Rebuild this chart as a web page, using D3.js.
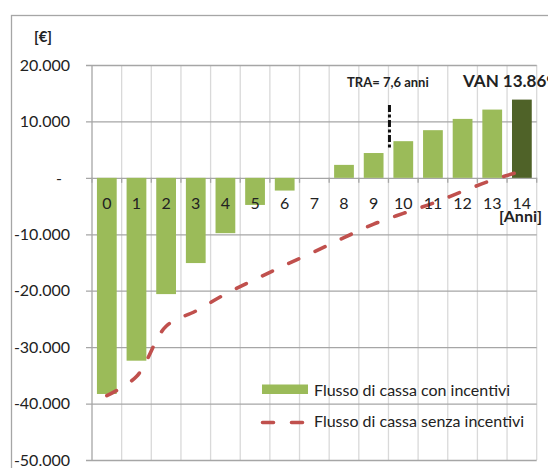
<!DOCTYPE html>
<html>
<head>
<meta charset="utf-8">
<script src="https://cdn.jsdelivr.net/npm/d3@7"></script>
<style>
  html, body { margin: 0; padding: 0; background: #ffffff; overflow: hidden; }
  svg { display: block; font-family: Lato, "Open Sans", sans-serif; }
</style>
</head>
<body>
<svg id="chart" width="548" height="468"></svg>
<script>
// Years of the investment horizon
const years = ["0","1","2","3","4","5","6","7","8","9","10","11","12","13","14"];

// Cumulative discounted cash flow with incentives [€]
const flowWithIncentives = [-38300, -32400, -20600, -15100, -9800, -4800, -2250, 0, 2300, 4400, 6500, 8450, 10450, 12100, 13869];

// Cumulative discounted cash flow without incentives [€]
const flowWithoutIncentives = [-38600, -35200, -26300, -23600, -20600, -18000, -15500, -13100, -10600, -8200, -6300, -4500, -2400, -400, 1200];

// Value axis ticks and their labels
const yTicks = [-50000, -40000, -30000, -20000, -10000, 0, 10000, 20000];
const yTickLabels = ["-50.000", "-40.000", "-30.000", "-20.000", "-10.000", "-", "10.000", "20.000"];

// Annotations
const seriesNames = ["Flusso di cassa con incentivi", "Flusso di cassa senza incentivi"];
const paybackLabel = "TRA= 7,6 anni";
const paybackMarkerYear = "10";
const npvLabel = "VAN 13.869";

const GREEN = "#9bbb59", DARK_GREEN = "#4f6228", RED = "#c0504d";
const GRID_MAJOR = "#a6a6a6", GRID_MINOR = "#d9d9d9";

const svg = d3.select("#chart");

const plot = { left: 92, right: 536.7, top: 65, bottom: 460 };

const x = d3.scaleBand().domain(years).range([plot.left, plot.right]).padding(0);
const step = x.step();
const barW = step / 1.5;                      // 50% gap width
const y = d3.scaleLinear().domain([-50000, 20000]).range([plot.bottom, plot.top]);

// Outer chart frame
svg.append("rect")
  .attr("x", 11.5).attr("y", 15.5).attr("width", 620).attr("height", 520)
  .attr("fill", "#ffffff").attr("stroke", GRID_MAJOR).attr("stroke-width", 1.3);

// Vertical gridlines at category boundaries
const boundaries = years.map(d => x(d)).concat([plot.right]);
svg.append("g").selectAll("line").data(boundaries.slice(1)).join("line")
  .attr("x1", d => d).attr("x2", d => d)
  .attr("y1", plot.top).attr("y2", plot.bottom)
  .attr("stroke", GRID_MINOR).attr("stroke-width", 1.3);

// Horizontal gridlines with outside ticks
const yAxis = d3.axisLeft(y).tickValues(yTicks).tickSize(-(plot.right - plot.left)).tickPadding(0).tickFormat("");
const gy = svg.append("g").attr("transform", `translate(${plot.left},0)`).call(yAxis);
gy.select(".domain").remove();
gy.selectAll(".tick line").attr("stroke", GRID_MAJOR).attr("stroke-width", 1.3).attr("x1", -6);

// Value axis line
svg.append("line")
  .attr("x1", plot.left).attr("x2", plot.left).attr("y1", plot.top).attr("y2", plot.bottom)
  .attr("stroke", GRID_MAJOR).attr("stroke-width", 1.3);

// Small ticks under the zero line
svg.append("g").selectAll("line").data(boundaries).join("line")
  .attr("x1", d => d).attr("x2", d => d)
  .attr("y1", y(0)).attr("y2", y(0) + 5)
  .attr("stroke", GRID_MAJOR).attr("stroke-width", 1.3);

// Value axis labels
svg.append("g").selectAll("text").data(yTicks).join("text")
  .attr("x", (d, i) => yTickLabels[i] === "-" ? 62 : 70)
  .attr("y", d => y(d)).attr("dy", "0.36em")
  .attr("text-anchor", "end").attr("font-size", 16).attr("fill", "#222")
  .text((d, i) => yTickLabels[i]);

svg.append("text").attr("x", 43).attr("y", 42).attr("text-anchor", "middle")
  .attr("font-size", 15).attr("font-weight", "bold").attr("fill", "#222").text("[€]");

// Bars: cash flow with incentives
svg.append("g").selectAll("rect").data(years).join("rect")
  .attr("x", d => x(d) + (step - barW) / 2)
  .attr("width", barW)
  .attr("y", (d, i) => y(Math.max(0, flowWithIncentives[i])))
  .attr("height", (d, i) => Math.abs(y(flowWithIncentives[i]) - y(0)))
  .attr("fill", (d, i) => i === years.length - 1 ? DARK_GREEN : GREEN);

// Smoothed dashed line: cash flow without incentives
const line = d3.line()
  .x((d, i) => x(years[i]) + step / 2)
  .y(d => y(d))
  .curve(d3.curveCatmullRom.alpha(0.5));
svg.append("path").datum(flowWithoutIncentives)
  .attr("d", line).attr("fill", "none")
  .attr("stroke", RED).attr("stroke-width", 3.6)
  .attr("stroke-linecap", "round")
  .attr("stroke-dasharray", "11,18");

// Category labels inside the plot
svg.append("g").selectAll("text").data(years).join("text")
  .attr("x", d => x(d) + step / 2).attr("y", 208.5)
  .attr("text-anchor", "middle").attr("font-size", 16).attr("fill", "#222")
  .text(d => d);

svg.append("text").attr("x", 542).attr("y", 221.5).attr("text-anchor", "end")
  .attr("font-size", 16).attr("font-weight", "bold").attr("fill", "#222").text("[Anni]");

// Payback marker
const px = x(paybackMarkerYear) + 1;
svg.append("line").attr("x1", px).attr("x2", px).attr("y1", 105).attr("y2", 150)
  .attr("stroke", "#111").attr("stroke-width", 3)
  .attr("stroke-dasharray", "7,2.5,3,2.5");
svg.append("text").attr("x", 347).attr("y", 87)
  .attr("font-size", 13).attr("font-weight", "bold").attr("fill", "#222").text(paybackLabel);

// Net present value label
svg.append("text").attr("x", 463).attr("y", 87)
  .attr("font-size", 17).attr("font-weight", "bold").attr("fill", "#222").text(npvLabel);

// Legend
const lg = svg.append("g");
lg.append("rect").attr("x", 262).attr("y", 384.5).attr("width", 46).attr("height", 9.5).attr("fill", GREEN);
lg.append("line").attr("x1", 262.5).attr("x2", 306.5).attr("y1", 422.5).attr("y2", 422.5)
  .attr("stroke", RED).attr("stroke-width", 3.6).attr("stroke-linecap", "round")
  .attr("stroke-dasharray", "11,18");
lg.selectAll("text").data(seriesNames).join("text")
  .attr("x", 314).attr("y", (d, i) => i === 0 ? 396 : 427)
  .attr("font-size", 16).attr("fill", "#222").text(d => d);
</script>
</body>
</html>
